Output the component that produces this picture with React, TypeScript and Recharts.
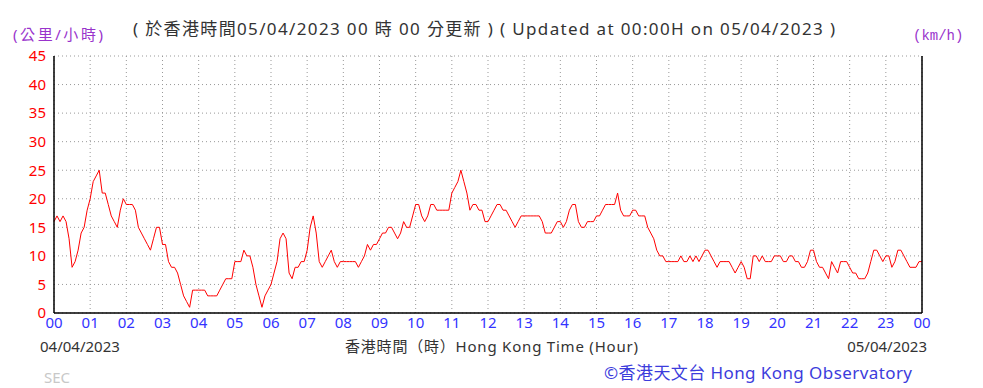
import React from 'react';
import { LineChart, Line, XAxis, YAxis, CartesianGrid } from 'recharts';

// 10-min mean wind speed (km/h), sampled every 5 minutes, 00:00 04/04 -> 00:00 05/04
const SAMPLE_MINUTES = 5;
const windSpeed: number[] = [
  16, 17, 16, 17, 16, 13, 8, 9, 11, 14, 15, 18, // 00
  20, 23, 24, 25, 21, 21, 19, 17, 16, 15, 18, 20, // 01
  19, 19, 19, 18, 15, 14, 13, 12, 11, 13, 15, 15, // 02
  12, 12, 9, 8, 8, 7, 5, 3, 2, 1, 4, 4, // 03
  4, 4, 4, 3, 3, 3, 3, 4, 5, 6, 6, 6, // 04
  9, 9, 9, 11, 10, 10, 8, 5, 3, 1, 3, 4, // 05
  5, 7, 9, 13, 14, 13, 7, 6, 8, 8, 9, 9, // 06
  11, 15, 17, 14, 9, 8, 9, 10, 11, 9, 8, 9, // 07
  9, 9, 9, 9, 9, 8, 9, 10, 12, 11, 12, 12, // 08
  13, 14, 14, 15, 15, 14, 13, 14, 16, 15, 15, 17, // 09
  19, 19, 17, 16, 17, 19, 19, 18, 18, 18, 18, 18, // 10
  21, 22, 23, 25, 23, 21, 18, 19, 19, 18, 18, 16, // 11
  16, 17, 18, 19, 19, 18, 18, 17, 16, 15, 16, 17, // 12
  17, 17, 17, 17, 17, 17, 16, 14, 14, 14, 15, 16, // 13
  16, 15, 16, 18, 19, 19, 16, 15, 15, 16, 16, 16, // 14
  17, 17, 18, 19, 19, 19, 19, 21, 18, 17, 17, 17, // 15
  18, 18, 17, 17, 17, 15, 14, 13, 11, 10, 10, 9, // 16
  9, 9, 9, 9, 10, 9, 9, 10, 9, 10, 9, 10, // 17
  11, 11, 10, 9, 8, 9, 9, 9, 9, 8, 7, 8, // 18
  9, 8, 6, 6, 10, 10, 9, 10, 9, 9, 9, 10, // 19
  10, 10, 9, 9, 10, 10, 9, 9, 8, 8, 9, 11, // 20
  11, 9, 8, 8, 7, 6, 9, 8, 7, 9, 9, 9, // 21
  8, 7, 7, 6, 6, 6, 7, 9, 11, 11, 10, 9, // 22
  10, 10, 8, 9, 11, 11, 10, 9, 8, 8, 8, 9, // 23
  9,
];

const hourTicks = Array.from({ length: 25 }, (_, i) => i);
const halfHourTicks = Array.from({ length: 24 }, (_, i) => i + 0.5);
const speedTicks = [0, 5, 10, 15, 20, 25, 30, 35, 40, 45];

const data = windSpeed.map((v, i) => ({ t: (i * SAMPLE_MINUTES) / 60, v }));

const FONT = '"Noto Sans", "Noto Sans CJK TC", sans-serif';
const RED = '#ff0000';
const BLUE = '#3333ff';
const PURPLE = '#9933cc';

const hourLabel = (h: number) => String(h % 24).padStart(2, '0');

export default function App() {
  return (
    <div
      style={{
        position: 'absolute',
        left: 0,
        top: 0,
        width: 983,
        height: 388,
        background: '#fff',
        fontFamily: FONT,
      }}
    >
      <LineChart width={983} height={388} data={data} margin={{ top: 56, right: 21, bottom: 55, left: 14 }}>
        <CartesianGrid yAxisId="l" stroke="#999" strokeDasharray="1 3" />
        {/* small inward ticks at the half hours */}
        <XAxis
          xAxisId="minor"
          dataKey="t"
          type="number"
          domain={[0, 24]}
          ticks={halfHourTicks}
          interval={0}
          height={0}
          mirror
          tick={false}
          tickSize={3}
          axisLine={false}
          tickLine={{ stroke: '#000' }}
        />
        <XAxis
          dataKey="t"
          type="number"
          domain={[0, 24]}
          ticks={hourTicks}
          interval={0}
          tickFormatter={hourLabel}
          height={20}
          tickLine={false}
          tickSize={0}
          tickMargin={4}
          axisLine={{ stroke: '#000', strokeWidth: 1.5 }}
          tick={{ fill: BLUE, fontSize: 15, fontFamily: FONT }}
        />
        <YAxis
          yAxisId="l"
          domain={[0, 45]}
          ticks={speedTicks}
          interval={0}
          width={40}
          tickLine={false}
          tickSize={0}
          tickMargin={8}
          axisLine={{ stroke: '#000', strokeWidth: 1.5 }}
          tick={{ fill: RED, fontSize: 15, fontFamily: FONT }}
        />
        <YAxis
          yAxisId="r"
          orientation="right"
          domain={[0, 45]}
          ticks={speedTicks}
          interval={0}
          width={40}
          tickLine={false}
          tickSize={0}
          tickMargin={4}
          axisLine={{ stroke: '#000', strokeWidth: 1.5 }}
          tick={{ fill: RED, fontSize: 15, fontFamily: FONT }}
        />
        <Line
          yAxisId="l"
          type="linear"
          dataKey="v"
          stroke={RED}
          strokeWidth={1}
          dot={false}
          isAnimationActive={false}
        />
      </LineChart>
      <svg
        width={983}
        height={388}
        style={{ position: 'absolute', left: 0, top: 0, pointerEvents: 'none' }}
        fontFamily={FONT}
      >
        <text x={133} y={35} fontSize={17} fill="#333" textLength={702} lengthAdjust="spacing">
          ( 於香港時間05/04/2023 00 時 00 分更新 ) ( Updated at 00:00H on 05/04/2023 )
        </text>
        <text x={13} y={40} fontSize={15} fill={PURPLE} textLength={90} lengthAdjust="spacing">
          (公里/小時)
        </text>
        <text x={913} y={40} fontSize={14} fill={PURPLE} fontFamily='"Liberation Mono", monospace'>
          (km/h)
        </text>
        <text x={40} y={352} fontSize={15} fill="#333">
          04/04/2023
        </text>
        <text x={345} y={352} fontSize={15} fill="#333" textLength={293} lengthAdjust="spacing">
          香港時間（時）Hong Kong Time (Hour)
        </text>
        <text x={927} y={352} textAnchor="end" fontSize={15} fill="#333">
          05/04/2023
        </text>
        <text x={44} y={383} fontSize={15} fill="#c8c8c8">
          SEC
        </text>
        <text x={604} y={379} fontSize={17} fill="#3c3cdc" textLength={308} lengthAdjust="spacing">
          ©香港天文台 Hong Kong Observatory
        </text>
      </svg>
    </div>
  );
}
